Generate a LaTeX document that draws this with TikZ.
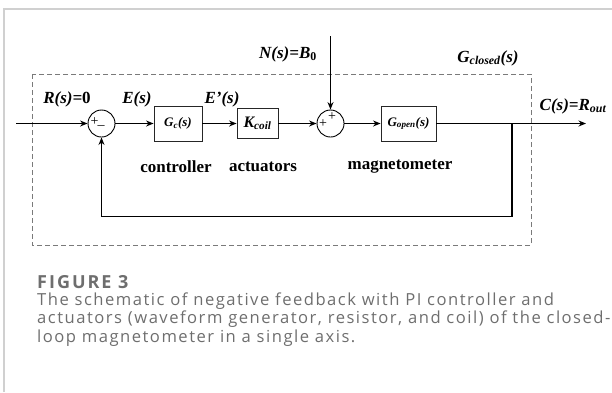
\documentclass[tikz,border=0pt]{standalone}
\usepackage{fontspec}
\setmainfont{Liberation Serif}
\newfontfamily\capfont[LetterSpace=9]{Open Sans}
\newfontfamily\capfontb[LetterSpace=11]{Open Sans}
\usetikzlibrary{arrows.meta}
\definecolor{capgrey}{HTML}{6E6E6E}
\definecolor{framegrey}{HTML}{D0D0D0}
\definecolor{dashgrey}{HTML}{7A7A7A}
\tikzset{
  blk/.style={draw=black!85, line width=0.9pt, minimum width=#1, inner sep=0pt},
  sumc/.style={draw=black, line width=0.9pt, circle, minimum size=27pt, inner sep=0pt},
  sig/.style={line width=1.1pt, -{Stealth[length=7.5pt,width=6pt]}},
  wire/.style={line width=1.1pt},
  lbl/.style={font=\fontsize{17}{19}\selectfont\bfseries\itshape, inner sep=0pt},
  tag/.style={font=\fontsize{17}{19}\selectfont\bfseries, inner sep=0pt},
  sgn/.style={font=\fontsize{14}{14}\selectfont, inner sep=0pt},
  captxt/.style={font=\capfont\fontsize{16.6}{18.5}\selectfont, text=capgrey, inner sep=0pt, anchor=base west},
  capfig/.style={font=\capfontb\fontsize{18}{18.5}\selectfont\bfseries, text=capgrey, inner sep=0pt, anchor=base west}
}
\begin{document}
\begin{tikzpicture}[x=1pt,y=-1pt]
\useasboundingbox (0,0) rectangle (612,392);
% frame
\draw[framegrey, line width=1.5pt] (4,392) -- (4,9) -- (612,9);
% closed-loop dashed box
\draw[dashgrey, line width=1pt, dash pattern=on 5pt off 3pt] (32,74) rectangle (531,245);
% blocks
\coordinate (in) at (16,123.5);
\node[sumc] (s1) at (101.5,123.5) {};
\node[blk=48pt, minimum height=35pt] (gc) at (178,123.5) {\fontsize{13}{14}\selectfont\bfseries\itshape G\textsubscript{c}(s)};
\node[blk=41pt, minimum height=30pt] (kc) at (257.5,123.5) {\fontsize{16}{18}\selectfont\bfseries\itshape K\textsubscript{coil}};
\node[sumc] (s2) at (330.5,123.5) {};
\node[blk=55pt, minimum height=35pt] (go) at (408.5,123.5) {\fontsize{13}{14}\selectfont\bfseries\itshape G\textsubscript{open}(s)};
\coordinate (br) at (512,123.5);
\coordinate (out) at (586,123.5);
\coordinate (fb1) at (512,216.5);
\coordinate (fb2) at (101.5,216.5);
\coordinate (nin) at (330.5,36);
% signs
\node[sgn] (p1) at (94.5,121.5) {+};
\node[sgn] (m1) at (101,125) {\_};
\node[sgn] (p2) at (323,123.5) {+};
\node[sgn] (p3) at (332,116.5) {+};
% connectors
\draw[sig] (in) -- (s1);
\draw[sig] (s1) -- (gc);
\draw[sig] (gc) -- (kc);
\draw[sig] (kc) -- (s2);
\draw[sig] (s2) -- (go);
\draw[sig] (go.east) -- (out);
\draw[sig] (nin) -- (s2);
\draw[wire] (br) -- (fb1) -- (fb2);
\draw[sig] (fb2) -- (s1);
% labels
\node[lbl] (lr) at (67,99) {R(s)={\upshape 0}};
\node[lbl] (le) at (137,99) {E(s)};
\node[lbl] (lep) at (222,99) {E’(s)};
\node[lbl] (ln) at (288,54) {N(s)=B\textsubscript{\upshape 0}};
\node[lbl] (lg) at (488,58) {G\textsubscript{closed}(s)};
\node[lbl] (lc) at (573,106) {C(s)=R\textsubscript{out}};
\node[tag] (tc) at (176,167) {controller};
\node[tag] (ta) at (263,167) {actuators};
\node[tag] (tm) at (400,167) {magnetometer};
% caption
\node[capfig] (fig) at (37,288.5) {FIGURE 3};
\node[captxt] (cap1) at (37,305) {The schematic of negative feedback with PI controller and};
\node[captxt] (cap2) at (37,323.5) {actuators (waveform generator, resistor, and coil) of the closed-};
\node[captxt] (cap3) at (37,342) {loop magnetometer in a single axis.};
\end{tikzpicture}
\end{document}
